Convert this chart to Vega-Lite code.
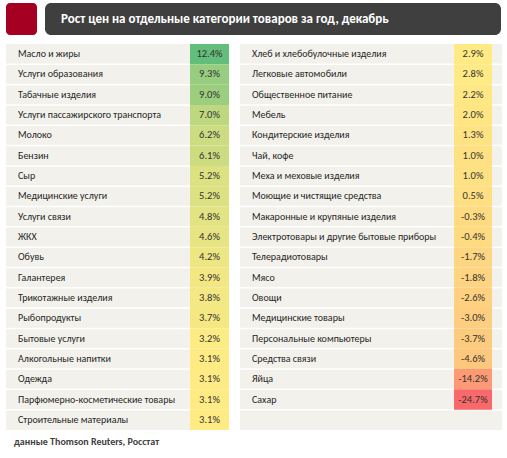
{
  "$schema": "https://vega.github.io/schema/vega-lite/v6.json",
  "padding": {"left": 5, "top": 3, "right": 7, "bottom": 4},
  "background": "white",
  "config": {"view": {"stroke": null}, "font": "Carlito, Lato, sans-serif", "concat": {"spacing": 9}},
  "title": {"text": "данные Thomson Reuters, Росстат", "orient": "bottom", "anchor": "start", "frame": "group", "offset": 7, "dx": 8, "fontSize": 10, "fontWeight": "bold", "color": "#404040"},
  "datasets": {
    "rows": [
      {"cat": "Масло и жиры", "val": 12.4, "col": "L", "row": 0},
      {"cat": "Услуги образования", "val": 9.3, "col": "L", "row": 1},
      {"cat": "Табачные изделия", "val": 9.0, "col": "L", "row": 2},
      {"cat": "Услуги пассажирского транспорта", "val": 7.0, "col": "L", "row": 3},
      {"cat": "Молоко", "val": 6.2, "col": "L", "row": 4},
      {"cat": "Бензин", "val": 6.1, "col": "L", "row": 5},
      {"cat": "Сыр", "val": 5.2, "col": "L", "row": 6},
      {"cat": "Медицинские услуги", "val": 5.2, "col": "L", "row": 7},
      {"cat": "Услуги связи", "val": 4.8, "col": "L", "row": 8},
      {"cat": "ЖКХ", "val": 4.6, "col": "L", "row": 9},
      {"cat": "Обувь", "val": 4.2, "col": "L", "row": 10},
      {"cat": "Галантерея", "val": 3.9, "col": "L", "row": 11},
      {"cat": "Трикотажные изделия", "val": 3.8, "col": "L", "row": 12},
      {"cat": "Рыбопродукты", "val": 3.7, "col": "L", "row": 13},
      {"cat": "Бытовые услуги", "val": 3.2, "col": "L", "row": 14},
      {"cat": "Алкогольные напитки", "val": 3.1, "col": "L", "row": 15},
      {"cat": "Одежда", "val": 3.1, "col": "L", "row": 16},
      {"cat": "Парфюмерно-косметические товары", "val": 3.1, "col": "L", "row": 17},
      {"cat": "Строительные материалы", "val": 3.1, "col": "L", "row": 18},
      {"cat": "Хлеб и хлебобулочные изделия", "val": 2.9, "col": "R", "row": 0},
      {"cat": "Легковые автомобили", "val": 2.8, "col": "R", "row": 1},
      {"cat": "Общественное питание", "val": 2.2, "col": "R", "row": 2},
      {"cat": "Мебель", "val": 2.0, "col": "R", "row": 3},
      {"cat": "Кондитерские изделия", "val": 1.3, "col": "R", "row": 4},
      {"cat": "Чай, кофе", "val": 1.0, "col": "R", "row": 5},
      {"cat": "Меха и меховые изделия", "val": 1.0, "col": "R", "row": 6},
      {"cat": "Моющие и чистящие средства", "val": 0.5, "col": "R", "row": 7},
      {"cat": "Макаронные и крупяные изделия", "val": -0.3, "col": "R", "row": 8},
      {"cat": "Электротовары и другие бытовые приборы", "val": -0.4, "col": "R", "row": 9},
      {"cat": "Телерадиотовары", "val": -1.7, "col": "R", "row": 10},
      {"cat": "Мясо", "val": -1.8, "col": "R", "row": 11},
      {"cat": "Овощи", "val": -2.6, "col": "R", "row": 12},
      {"cat": "Медицинские товары", "val": -3.0, "col": "R", "row": 13},
      {"cat": "Персональные компьютеры", "val": -3.7, "col": "R", "row": 14},
      {"cat": "Средства связи", "val": -4.6, "col": "R", "row": 15},
      {"cat": "Яйца", "val": -14.2, "col": "R", "row": 16},
      {"cat": "Сахар", "val": -24.7, "col": "R", "row": 17}
    ],
    "header": [{"t": "Рост цен на отдельные категории товаров за год, декабрь"}]
  },
  "vconcat": [
    {
      "spacing": 8,
      "hconcat": [
        {
          "width": 31, "height": 32,
          "view": {"fill": "#a50021", "stroke": null, "cornerRadius": 4},
          "data": {"name": "header"},
          "mark": {"type": "text", "text": ""},
          "encoding": {}
        },
        {
          "width": 456, "height": 32,
          "view": {"fill": "#3f3f3f", "stroke": null, "cornerRadius": 6},
          "data": {"name": "header"},
          "mark": {"type": "text", "align": "left", "baseline": "middle", "dx": -212, "fontSize": 13, "fontWeight": "bold", "color": "white"},
          "encoding": {"text": {"field": "t"}}
        }
      ]
    },
    {
      "spacing": 9,
      "hconcat": [
        {
          "width": 223, "height": 386,
          "view": {"fill": "#f3f1ec", "stroke": null},
          "data": {"name": "rows"},
          "transform": [{"filter": "datum.col == 'L'"}, {"calculate": "(datum.val < 0 ? '-' : '') + format(abs(datum.val), '.1f') + '%'", "as": "lbl"}],
          "layer": [
            {
              "transform": [{"filter": "datum.row < 18"}],
              "mark": {"type": "rule", "stroke": "white", "strokeWidth": 1.5},
              "encoding": {"y": {"field": "row", "type": "ordinal", "bandPosition": 1, "scale": {"domain": [0,1,2,3,4,5,6,7,8,9,10,11,12,13,14,15,16,17,18], "paddingInner": 0, "paddingOuter": 0}, "axis": null}}
            },
            {
              "mark": {"type": "rect"},
              "encoding": {
                "x": {"field": "col", "type": "nominal", "scale": {"type": "band", "range": [184, 223], "paddingInner": 0, "paddingOuter": 0}, "axis": null},
                "y": {"field": "row", "type": "ordinal", "scale": {"domain": [0,1,2,3,4,5,6,7,8,9,10,11,12,13,14,15,16,17,18], "paddingInner": 0, "paddingOuter": 0}, "axis": null},
                "color": {"field": "val", "type": "quantitative", "scale": {"domain": [-24.7, 3.1, 12.4], "range": ["#f8696b", "#ffeb84", "#63be7b"], "interpolate": "rgb"}, "legend": null}
              }
            },
            {
              "mark": {"type": "text", "align": "center", "baseline": "middle", "fontSize": 10.5, "color": "#333333"},
              "encoding": {
                "x": {"field": "col", "type": "nominal", "scale": {"type": "band", "range": [184, 223], "paddingInner": 0, "paddingOuter": 0}, "axis": null},
                "y": {"field": "row", "type": "ordinal", "scale": {"domain": [0,1,2,3,4,5,6,7,8,9,10,11,12,13,14,15,16,17,18], "paddingInner": 0, "paddingOuter": 0}, "axis": null},
                "text": {"field": "lbl"}
              }
            },
            {
              "mark": {"type": "text", "align": "left", "baseline": "middle", "fontSize": 10, "color": "#262626"},
              "encoding": {
                "x": {"field": "col", "type": "nominal", "scale": {"type": "band", "range": [12, 100], "paddingInner": 0, "paddingOuter": 0}, "bandPosition": 0, "axis": null},
                "y": {"field": "row", "type": "ordinal", "scale": {"domain": [0,1,2,3,4,5,6,7,8,9,10,11,12,13,14,15,16,17,18], "paddingInner": 0, "paddingOuter": 0}, "axis": null},
                "text": {"field": "cat"}
              }
            }
          ],
          "resolve": {"scale": {"x": "independent"}}
        },
        {
          "width": 262, "height": 386,
          "view": {"fill": "#f3f1ec", "stroke": null},
          "data": {"name": "rows"},
          "transform": [{"filter": "datum.col == 'R'"}, {"calculate": "(datum.val < 0 ? '-' : '') + format(abs(datum.val), '.1f') + '%'", "as": "lbl"}],
          "layer": [
            {
              "mark": {"type": "rule", "stroke": "white", "strokeWidth": 1.5},
              "encoding": {"y": {"field": "row", "type": "ordinal", "bandPosition": 1, "scale": {"domain": [0,1,2,3,4,5,6,7,8,9,10,11,12,13,14,15,16,17,18], "paddingInner": 0, "paddingOuter": 0}, "axis": null}}
            },
            {
              "mark": {"type": "rect"},
              "encoding": {
                "x": {"field": "col", "type": "nominal", "scale": {"type": "band", "range": [214, 252], "paddingInner": 0, "paddingOuter": 0}, "axis": null},
                "y": {"field": "row", "type": "ordinal", "scale": {"domain": [0,1,2,3,4,5,6,7,8,9,10,11,12,13,14,15,16,17,18], "paddingInner": 0, "paddingOuter": 0}, "axis": null},
                "color": {"field": "val", "type": "quantitative", "scale": {"domain": [-24.7, 3.1, 12.4], "range": ["#f8696b", "#ffeb84", "#63be7b"], "interpolate": "rgb"}, "legend": null}
              }
            },
            {
              "mark": {"type": "text", "align": "center", "baseline": "middle", "fontSize": 10.5, "color": "#333333"},
              "encoding": {
                "x": {"field": "col", "type": "nominal", "scale": {"type": "band", "range": [214, 252], "paddingInner": 0, "paddingOuter": 0}, "axis": null},
                "y": {"field": "row", "type": "ordinal", "scale": {"domain": [0,1,2,3,4,5,6,7,8,9,10,11,12,13,14,15,16,17,18], "paddingInner": 0, "paddingOuter": 0}, "axis": null},
                "text": {"field": "lbl"}
              }
            },
            {
              "mark": {"type": "text", "align": "left", "baseline": "middle", "fontSize": 10, "color": "#262626"},
              "encoding": {
                "x": {"field": "col", "type": "nominal", "scale": {"type": "band", "range": [12, 100], "paddingInner": 0, "paddingOuter": 0}, "bandPosition": 0, "axis": null},
                "y": {"field": "row", "type": "ordinal", "scale": {"domain": [0,1,2,3,4,5,6,7,8,9,10,11,12,13,14,15,16,17,18], "paddingInner": 0, "paddingOuter": 0}, "axis": null},
                "text": {"field": "cat"}
              }
            }
          ],
          "resolve": {"scale": {"x": "independent"}}
        }
      ]
    }
  ]
}
